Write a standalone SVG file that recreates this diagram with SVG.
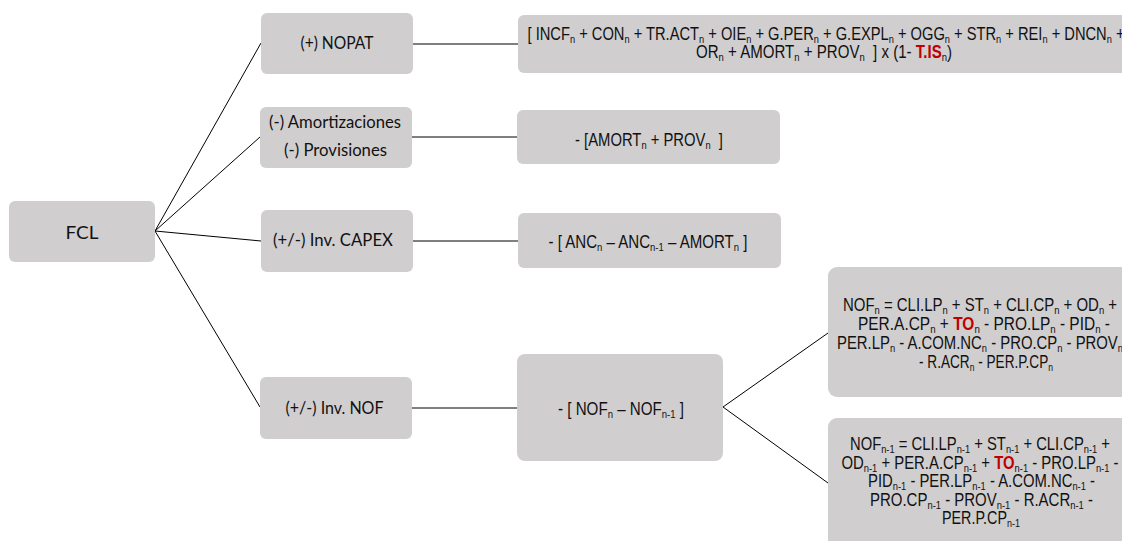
<svg xmlns="http://www.w3.org/2000/svg" width="1122" height="541" viewBox="0 0 1122 541">
<style>
.box{fill:#d0cecf;}
.lt{font-family:Lato,"Open Sans","Liberation Sans",sans-serif;font-size:17px;fill:#111;text-anchor:middle;}
.ft{font-family:"Liberation Sans Narrow","Liberation Sans",Arial,sans-serif;font-size:17.5px;fill:#111;text-anchor:middle;}
.s{font-size:11px;baseline-shift:-3px;}
.r{fill:#c00000;font-weight:bold;}
.cn{stroke:#000;stroke-width:1;fill:none;}
</style>
<rect width="1122" height="541" fill="#fff"/>
<g id="connectors">
<line class="cn" x1="155" y1="231" x2="261" y2="43"/>
<line class="cn" x1="155" y1="231" x2="260" y2="137"/>
<line class="cn" x1="155" y1="231" x2="261" y2="241"/>
<line class="cn" x1="155" y1="231" x2="260" y2="407"/>
<line class="cn" x1="413" y1="44" x2="518" y2="44"/>
<line class="cn" x1="412" y1="137" x2="517" y2="137"/>
<line class="cn" x1="413" y1="241" x2="518" y2="241"/>
<line class="cn" x1="412" y1="408" x2="517" y2="408"/>
<line class="cn" x1="723" y1="407" x2="828" y2="333"/>
<line class="cn" x1="723" y1="407" x2="828" y2="483"/>
</g>
<g id="fcl">
<rect class="box" x="9" y="201" width="146" height="61" rx="6"/>
<text class="lt" x="82" y="239" font-size="20" textLength="33" lengthAdjust="spacingAndGlyphs">FCL</text>
</g>
<g id="nopat">
<rect class="box" x="261" y="13" width="152" height="61" rx="6"/>
<text class="lt" x="337" y="49" textLength="73" lengthAdjust="spacingAndGlyphs">(+) NOPAT</text>
</g>
<g id="amort">
<rect class="box" x="260" y="107" width="152" height="61" rx="6"/>
<text class="lt" x="335" y="128" textLength="132" lengthAdjust="spacingAndGlyphs">(-) Amortizaciones</text>
<text class="lt" x="335.5" y="156" textLength="103" lengthAdjust="spacingAndGlyphs">(-) Provisiones</text>
</g>
<g id="capex">
<rect class="box" x="261" y="210" width="152" height="62" rx="6"/>
<text class="lt" x="333" y="246" textLength="120" lengthAdjust="spacingAndGlyphs">(+/-) Inv. CAPEX</text>
</g>
<g id="invnof">
<rect class="box" x="260" y="377" width="152" height="62" rx="6"/>
<text class="lt" x="334.5" y="414" textLength="98" lengthAdjust="spacingAndGlyphs">(+/-) Inv. NOF</text>
</g>
<g id="nopat-formula">
<rect class="box" x="518" y="15" width="620" height="58" rx="6"/>
<text class="ft" x="826" y="39.5" textLength="597" lengthAdjust="spacingAndGlyphs">[ INCF<tspan class="s">n</tspan> + CON<tspan class="s">n</tspan> + TR.ACT<tspan class="s">n</tspan> + OIE<tspan class="s">n</tspan> + G.PER<tspan class="s">n</tspan> + G.EXPL<tspan class="s">n</tspan> + OGG<tspan class="s">n</tspan> + STR<tspan class="s">n</tspan> + REI<tspan class="s">n</tspan> + DNCN<tspan class="s">n</tspan> +</text>
<text class="ft" x="824" y="58" textLength="256" lengthAdjust="spacingAndGlyphs">OR<tspan class="s">n</tspan> + AMORT<tspan class="s">n</tspan> + PROV<tspan class="s">n</tspan>&#160; ] x (1- <tspan class="r">T.IS</tspan><tspan class="s">n</tspan>)</text>
</g>
<g id="amort-formula">
<rect class="box" x="517" y="110" width="263" height="54" rx="6"/>
<text class="ft" x="649" y="146" textLength="148" lengthAdjust="spacingAndGlyphs">- [AMORT<tspan class="s">n</tspan> + PROV<tspan class="s">n</tspan>&#160; ]</text>
</g>
<g id="capex-formula">
<rect class="box" x="518" y="213" width="263" height="55" rx="6"/>
<text class="ft" x="648" y="248" textLength="199" lengthAdjust="spacingAndGlyphs">- [ ANC<tspan class="s">n</tspan> – ANC<tspan class="s">n-1</tspan> – AMORT<tspan class="s">n</tspan> ]</text>
</g>
<g id="nof-formula">
<rect class="box" x="517" y="354" width="206" height="107" rx="8"/>
<text class="ft" x="621" y="415" textLength="126" lengthAdjust="spacingAndGlyphs">- [ NOF<tspan class="s">n</tspan> – NOF<tspan class="s">n-1</tspan> ]</text>
</g>
<g id="nof-n">
<rect class="box" x="828" y="267" width="310" height="130" rx="9"/>
<text class="ft" x="980" y="311" textLength="274" lengthAdjust="spacingAndGlyphs">NOF<tspan class="s">n</tspan> = CLI.LP<tspan class="s">n</tspan> + ST<tspan class="s">n</tspan> + CLI.CP<tspan class="s">n</tspan> + OD<tspan class="s">n</tspan> +</text>
<text class="ft" x="984" y="330" textLength="252" lengthAdjust="spacingAndGlyphs">PER.A.CP<tspan class="s">n</tspan> + <tspan class="r">TO</tspan><tspan class="s">n</tspan> - PRO.LP<tspan class="s">n</tspan> - PID<tspan class="s">n</tspan> -</text>
<text class="ft" x="980" y="349" textLength="286" lengthAdjust="spacingAndGlyphs">PER.LP<tspan class="s">n</tspan> - A.COM.NC<tspan class="s">n</tspan> - PRO.CP<tspan class="s">n</tspan> - PROV<tspan class="s">n</tspan></text>
<text class="ft" x="986" y="368" textLength="134" lengthAdjust="spacingAndGlyphs">- R.ACR<tspan class="s">n</tspan> - PER.P.CP<tspan class="s">n</tspan></text>
</g>
<g id="nof-n-1">
<rect class="box" x="828" y="418" width="310" height="135" rx="9"/>
<text class="ft" x="980" y="450" textLength="260" lengthAdjust="spacingAndGlyphs">NOF<tspan class="s">n-1</tspan> = CLI.LP<tspan class="s">n-1</tspan> + ST<tspan class="s">n-1</tspan> + CLI.CP<tspan class="s">n-1</tspan> +</text>
<text class="ft" x="980" y="468.5" textLength="277" lengthAdjust="spacingAndGlyphs">OD<tspan class="s">n-1</tspan> + PER.A.CP<tspan class="s">n-1</tspan> + <tspan class="r">TO</tspan><tspan class="s">n-1</tspan> - PRO.LP<tspan class="s">n-1</tspan> -</text>
<text class="ft" x="981.5" y="487" textLength="227" lengthAdjust="spacingAndGlyphs">PID<tspan class="s">n-1</tspan> - PER.LP<tspan class="s">n-1</tspan> - A.COM.NC<tspan class="s">n-1</tspan> -</text>
<text class="ft" x="981.5" y="506" textLength="223" lengthAdjust="spacingAndGlyphs">PRO.CP<tspan class="s">n-1</tspan> - PROV<tspan class="s">n-1</tspan> - R.ACR<tspan class="s">n-1</tspan> -</text>
<text class="ft" x="981" y="524" textLength="78" lengthAdjust="spacingAndGlyphs">PER.P.CP<tspan class="s">n-1</tspan></text>
</g>
</svg>
